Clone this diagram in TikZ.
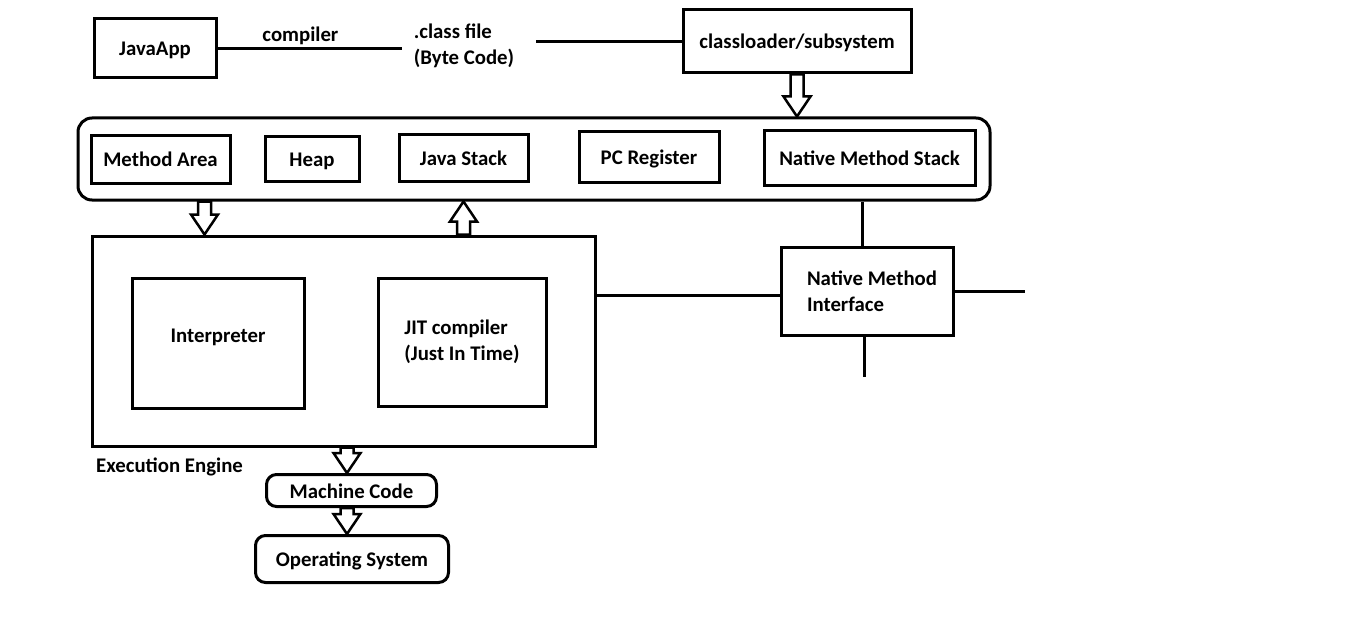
\documentclass[tikz,border=0pt]{standalone}
\usepackage{fontspec}
\setmainfont{Carlito}
\usetikzlibrary{calc}
\tikzset{
  lbl/.style={font=\bfseries\fontsize{20.8}{26}\selectfont, inner sep=0pt},
  one/.style={text height=17pt, text depth=2pt},
  box/.style={lbl, draw, line width=3pt},
  conn/.style={line width=3pt},
  hollow/.style={draw, line width=2.5pt, fill=white, line join=miter,
    to path={
      ($(\tikztostart)!6.5pt!90:(\tikztotarget)$) --
      ($(\tikztotarget)!20pt!(\tikztostart)!6.5pt!90:(\tikztotarget)$) --
      ($(\tikztotarget)!20pt!(\tikztostart)!13.5pt!90:(\tikztotarget)$) --
      (\tikztotarget) --
      ($(\tikztotarget)!20pt!(\tikztostart)!13.5pt!-90:(\tikztotarget)$) --
      ($(\tikztotarget)!20pt!(\tikztostart)!6.5pt!-90:(\tikztotarget)$) --
      ($(\tikztostart)!6.5pt!-90:(\tikztotarget)$) -- cycle}}
}
\begin{document}
\begin{tikzpicture}[x=1pt,y=-1pt]
\useasboundingbox (0,0) rectangle (1360,623);
% top row
\node[box, one, minimum width=122, minimum height=59] (app) at (155,48.5) {JavaApp};
\node[lbl, align=left, inner xsep=12pt] (cls) at (464,46) {.class file\\(Byte Code)};
\node[box, one, minimum width=228, minimum height=63] (cl) at (797,41.5) {classloader/subsystem};
\draw[conn] (app.east) -- node[lbl, one, pos=0.45, above=3pt] (cmp) {compiler} (app.east -| cls.west);
\coordinate (clsR) at ($(cls.east)+(10,0)$);
\draw[conn] (clsR |- cl.west) -- (cl.west);
% memory areas
\node[box, rounded corners=14pt, minimum width=912, minimum height=82] (mem) at (534,159) {};
\node[box, one, minimum width=139, minimum height=47] (ma) at (160.5,159.5) {Method Area};
\node[box, one, minimum width=94, minimum height=44] (heap) at (312,159) {Heap};
\node[box, one, minimum width=129, minimum height=46] (js) at (463.5,158) {Java Stack};
\node[box, one, minimum width=140, minimum height=50] (pc) at (649,157) {PC Register};
\node[box, one, minimum width=211, minimum height=54] (nms) at (869.5,158) {Native Method Stack};
% execution engine
\node[box, minimum width=503, minimum height=210] (ee) at (343.5,341) {};
\node[box, minimum width=172, minimum height=130, label={[lbl, one, yshift=8pt]center:Interpreter}] (interp) at (218,343) {};
\node[box, align=left, minimum width=168, minimum height=128] (jit) at (462,342) {JIT compiler\\(Just In Time)};
\node[lbl, one, anchor=west] (eeL) at (96,465) {Execution Engine};
% native method interface
\node[box, align=left, minimum width=172, minimum height=88] (nmi) at (867,291) {\hspace*{10pt}Native Method\\\hspace*{10pt}Interface};
% machine code, OS
\node[box, one, rounded corners=10pt, minimum width=170, minimum height=32] (mc) at (351.5,490.5) {Machine Code};
\node[box, one, rounded corners=10pt, minimum width=193, minimum height=47] (os) at (352,559) {Operating System};
% plain connectors
\coordinate (nmiL) at ($(nmi.west)+(0,4)$);
\draw[conn] (nmiL) -- (nmiL -| ee.east);
\coordinate (nmiT) at ($(nmi.north)+(-5,0)$);
\draw[conn] (nmiT) -- (nmiT |- mem.south);
\coordinate (nmiB) at (864,377);
\draw[conn] (nmiB |- nmi.south) -- (nmiB);
\coordinate (nmiR) at (1025,291);
\draw[conn] (nmiR -| nmi.east) -- (nmiR);
% hollow arrows
\coordinate (a1s) at (cl.south);
\coordinate (a1t) at (cl.south |- mem.north);
\draw[hollow] (a1s) to (a1t);
\coordinate (a2) at ($(ma.south)+(44,0)$);
\coordinate (a2s) at (a2 |- mem.south);
\coordinate (a2t) at (a2 |- ee.north);
\draw[hollow] (a2s) to (a2t);
\coordinate (a3s) at (js.south |- ee.north);
\coordinate (a3t) at (js.south |- mem.south);
\draw[hollow] (a3s) to (a3t);
\coordinate (a4s) at ($(ee.south)+(3.5,0)$);
\coordinate (a4t) at (a4s |- mc.north);
\draw[hollow] (a4s) to (a4t);
\coordinate (a5s) at (a4s |- mc.south);
\coordinate (a5t) at (a4s |- os.north);
\draw[hollow] (a5s) to (a5t);
\end{tikzpicture}
\end{document}
